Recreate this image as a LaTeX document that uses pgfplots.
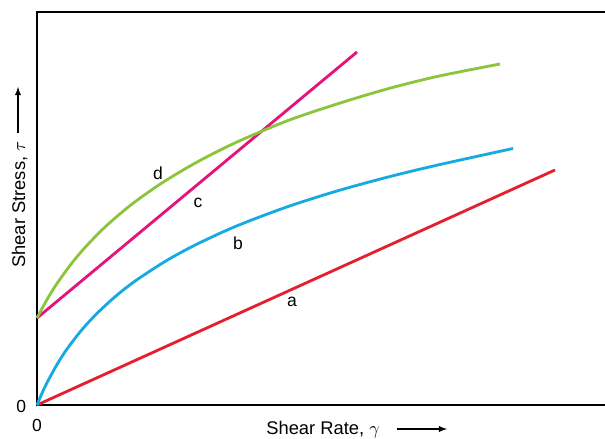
\documentclass[border=0pt]{standalone}
\usepackage{pgfplots}
\pgfplotsset{compat=1.18}
\usepackage{fontspec}
\setmainfont{Liberation Sans}
\definecolor{cA}{RGB}{228,32,45}
\definecolor{cB}{RGB}{22,170,226}
\definecolor{cC}{RGB}{228,20,125}
\definecolor{cD}{RGB}{140,196,62}
\begin{document}
\begin{tikzpicture}
\begin{axis}[
  x=0.6pt, y=0.6pt,
  at={(0,0)}, anchor=south west,
  xmin=0, xmax=570, ymin=0, ymax=393,
  xtick={0}, ytick={0},
  tick style={draw=none},
  axis line style={line width=1.2pt},
  clip=false,
  /pgf/number format/assume math mode=true,
  tick label style={font=\fontsize{10.5}{12}\selectfont},
  xticklabel style={yshift=-5pt},
  yticklabel style={xshift=-3pt, yshift=-1pt},
  every axis plot/.append style={line width=1.7pt, no markers},
]
\addplot[cA] coordinates {(0,0) (518,235)};
\addplot[cB, smooth] coordinates {(0,0) (5,11.8) (10,22.3) (20,40.5) (30,56.0) (45,75.4) (60,91.6) (80,109.9) (100,125.3) (130,144.7) (160,160.9) (200,179.2) (250,198.1) (300,214.0) (350,227.7) (400,239.8) (476,256.5)};
\addplot[cC] coordinates {(0,87) (320,353)};
\addplot[cD, smooth] coordinates {(0,87) (10,105.5) (20,121.5) (35,142.1) (50,159.7) (70,179.8) (95,200.9) (125,222.1) (160,242.9) (200,263.0) (250,284.1) (300,301.0) (350,316.0) (400,328.5) (463,341)};
\node[font=\fontsize{10.5}{12}\selectfont] at (axis cs:121,232) {d};
\node[font=\fontsize{10.5}{12}\selectfont] at (axis cs:161,202) {c};
\node[font=\fontsize{10.5}{12}\selectfont] at (axis cs:201,162) {b};
\node[font=\fontsize{10.5}{12}\selectfont] at (axis cs:255,103) {a};
\node[font=\fontsize{11}{13}\selectfont, anchor=base west, inner sep=0pt] at (axis cs:229,-29) {Shear Rate, $\gamma$};
\draw[-latex, line width=0.7pt] (axis cs:360,-24) -- (axis cs:410,-24);
\node[font=\fontsize{11}{13}\selectfont, rotate=90, anchor=base west, inner sep=0pt] at (axis cs:-12,137) {Shear Stress, $\tau$};
\draw[-latex, line width=0.7pt] (axis cs:-19,272) -- (axis cs:-19,318);
\end{axis}
\pgfresetboundingbox
\path (-22.2pt,-19.8pt) rectangle (340.8pt,243pt);
\end{tikzpicture}
\end{document}
